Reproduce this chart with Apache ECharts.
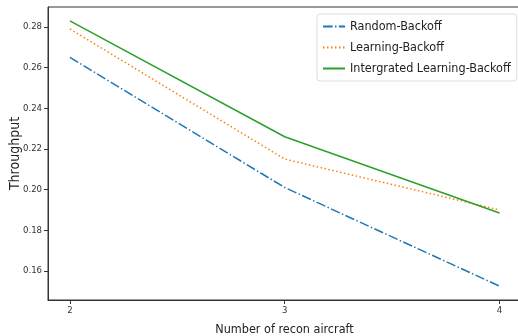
<!DOCTYPE html>
<html>
<head>
<meta charset="utf-8">
<script src="https://cdn.jsdelivr.net/npm/echarts@6/dist/echarts.min.js"></script>
<style>
    html, body { margin: 0; padding: 0; background: #fff; }
    #chart { width: 518px; height: 336px; }
</style>
</head>
<body>
<div id="chart"></div>
<script>
// 横轴：侦察机数量
const aircraftNum = [2, 3, 4];
// 吞吐量
const randomBackoff = [0.265, 0.201, 0.1525];
const learningBackoff = [0.279, 0.215, 0.190];
const integratedBackoff = [0.283, 0.226, 0.1885];
const yTicks = [0.16, 0.18, 0.20, 0.22, 0.24, 0.26, 0.28];

const font = '"DejaVu Sans Condensed", "DejaVu Sans"';
const pairs = arr => aircraftNum.map((x, i) => [x, arr[i]]);

const chart = echarts.init(document.getElementById('chart'));
chart.setOption({
    backgroundColor: '#fff',
    animation: false,
    grid: {
        left: 48,
        top: 7,
        width: 473,
        height: 293,
        outerBoundsMode: 'none',
        containLabel: false,
        show: true,
        borderColor: '#333',
        borderWidth: 1,
        backgroundColor: 'transparent'
    },
    legend: {
        orient: 'vertical',
        left: 317,
        top: 14,
        padding: [6, 6, 6, 5],
        itemWidth: 22,
        itemHeight: 10,
        itemGap: 8,
        itemStyle: { opacity: 0 },
        borderColor: '#ddd',
        borderWidth: 1,
        borderRadius: 3,
        textStyle: { fontFamily: font, fontSize: 12.5, color: '#222' },
        data: ['Random-Backoff', 'Learning-Backoff', 'Intergrated Learning-Backoff']
    },
    xAxis: {
        type: 'value',
        min: 1.898,
        max: 4.1,
        name: 'Number of recon aircraft',
        nameLocation: 'middle',
        nameGap: 23,
        nameMoveOverlap: false,
        nameTextStyle: { fontFamily: font, fontSize: 12.5, color: '#222' },
        axisLine: { show: true, lineStyle: { color: '#333', width: 1 } },
        axisTick: { show: true, length: 4, customValues: aircraftNum, lineStyle: { color: '#333' } },
        axisLabel: { customValues: aircraftNum, fontFamily: font, fontSize: 9.5, color: '#333', margin: 6 },
        splitLine: { show: false }
    },
    yAxis: {
        type: 'value',
        min: 0.1457,
        max: 0.2898,
        name: 'Throughput',
        nameLocation: 'middle',
        nameGap: 26,
        nameMoveOverlap: false,
        nameTextStyle: { fontFamily: font, fontSize: 14, color: '#222' },
        axisLine: { show: true, lineStyle: { color: '#333', width: 1 } },
        axisTick: { show: true, length: 4, customValues: yTicks, lineStyle: { color: '#333' } },
        axisLabel: {
            customValues: yTicks,
            fontFamily: font,
            fontSize: 9.5,
            color: '#333',
            margin: 6,
            formatter: v => v.toFixed(2)
        },
        splitLine: { show: false }
    },
    series: [
        {
            name: 'Random-Backoff',
            type: 'line',
            data: pairs(randomBackoff),
            symbol: 'none',
            color: '#1f77b4',
            lineStyle: { width: 1.5, type: [9.6, 2.4, 1.5, 2.4] }
        },
        {
            name: 'Learning-Backoff',
            type: 'line',
            data: pairs(learningBackoff),
            symbol: 'none',
            color: '#ff7f0e',
            lineStyle: { width: 1.5, type: [1.5, 2.5] }
        },
        {
            name: 'Intergrated Learning-Backoff',
            type: 'line',
            data: pairs(integratedBackoff),
            symbol: 'none',
            color: '#2ca02c',
            lineStyle: { width: 1.5 }
        }
    ]
});
</script>
</body>
</html>
